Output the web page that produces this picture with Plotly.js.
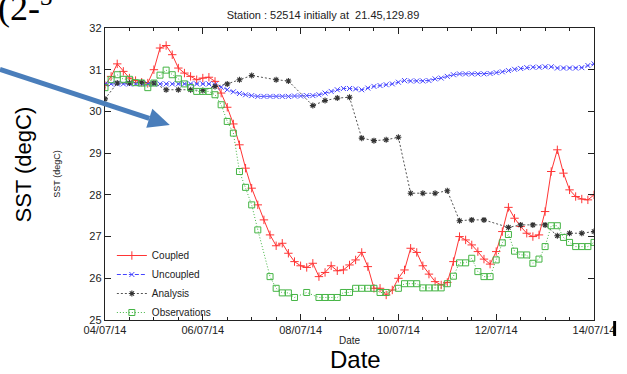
<!DOCTYPE html>
<html><head><meta charset="utf-8">
<script src="https://cdn.plot.ly/plotly-3.0.1.min.js"></script>
<style>html,body{margin:0;padding:0;background:#fff;}#chart{width:627px;height:374px;}</style>
</head><body><div id="chart"></div>
<script>
// ---- data (3-hourly from 04/07/2014 00:00, analysis 6-hourly) ----
const startDate = [2014, 6, 4];
const coupled = [30.62,30.84,31.14,30.96,30.80,30.74,30.70,30.68,31.00,31.52,31.58,31.36,31.04,30.92,30.84,30.76,30.80,30.82,30.72,30.44,
 30.10,29.70,29.20,28.64,28.16,27.76,27.40,27.04,26.78,26.84,26.60,26.40,26.30,26.26,26.36,26.04,26.14,26.30,26.18,26.20,
 26.32,26.44,26.62,26.28,25.76,25.76,25.60,25.72,26.00,26.20,26.72,26.62,26.30,26.10,25.92,25.84,25.90,26.40,27.00,26.92,
 26.80,26.64,26.46,26.34,26.64,27.12,27.70,27.44,27.24,27.08,27.00,27.04,27.60,28.56,29.08,28.52,28.12,27.96,27.90,27.88,28.00];
const uncoupled = [30.66,30.66,30.66,30.66,30.66,30.66,30.66,30.66,30.66,30.66,30.66,30.66,30.66,30.66,30.66,30.66,30.66,30.66,30.64,30.58,
 30.52,30.47,30.43,30.40,30.38,30.36,30.36,30.36,30.36,30.36,30.36,30.37,30.37,30.38,30.38,30.40,30.44,30.48,30.52,30.55,
 30.55,30.54,30.52,30.56,30.60,30.62,30.64,30.66,30.70,30.74,30.73,30.73,30.73,30.74,30.78,30.80,30.84,30.88,30.90,30.90,
 30.90,30.90,30.90,30.91,30.93,30.95,30.98,31.01,31.03,31.05,31.06,31.06,31.07,31.07,31.04,31.04,31.04,31.04,31.05,31.10,31.14];
const analysis = [30.30,30.68,30.68,30.70,30.68,30.52,30.52,30.52,30.50,30.60,30.66,30.76,30.86,null,30.76,30.73,null,30.14,30.26,30.32,
 30.34,29.36,29.30,29.32,29.38,28.04,28.04,28.04,28.10,27.38,27.40,27.40,null,27.22,27.28,27.28,27.28,27.02,27.08,27.08,27.12];
const observations = [30.57,30.76,30.88,30.77,30.77,30.69,30.68,30.57,30.68,30.87,30.99,30.88,30.78,30.66,30.57,30.48,30.48,30.48,30.40,30.16,
 29.76,29.48,28.56,28.18,27.76,27.16,null,26.04,25.76,25.65,25.65,25.54,null,25.66,null,25.54,25.54,25.54,25.54,25.66,
 25.66,25.76,25.76,25.76,25.76,25.66,25.66,null,25.76,25.87,25.87,25.87,25.77,25.77,25.77,25.77,25.87,26.05,26.37,26.37,
 26.48,26.16,26.04,26.04,26.44,26.85,27.05,26.65,26.56,26.56,26.36,26.46,26.76,27.26,27.26,26.98,26.86,26.76,26.76,26.76,26.86];
const tickDates = ['2014-07-04','2014-07-06','2014-07-08','2014-07-10','2014-07-12','2014-07-14'];
const tickLabels = ['04/07/14','06/07/14','08/07/14','10/07/14','12/07/14','14/07/14'];
const seriesNames = ['Coupled','Uncoupled','Analysis','Observations'];

function times(n, stepHours){
  const t0 = Date.UTC(startDate[0], startDate[1], startDate[2]);
  return Array.from({length:n}, (_, i) => new Date(t0 + i*stepHours*3600000).toISOString().slice(0,19).replace('T',' '));
}

// ---- geometry helpers (pixel -> paper) ----
const W=627, H=374, L=105, R=24, T=28, B=54;
const PW=W-L-R, PH=H-T-B;
const px = x => (x-L)/PW, py = y => (H-B-y)/PH;

const FONT = 'Liberation Sans, Arial, sans-serif';
const INK = '#222';

const traces = [
  {x: times(coupled.length,3), y: coupled, name: seriesNames[0], type:'scatter', mode:'lines+markers',
   line:{color:'#ff3535', width:1}, marker:{symbol:'cross-thin-open', size:6, color:'#ff3535', line:{color:'#ff3535', width:1}}},
  {x: times(uncoupled.length,3), y: uncoupled, name: seriesNames[1], type:'scatter', mode:'lines+markers',
   line:{color:'#4545ff', width:1, dash:'4px,2px'}, marker:{symbol:'x-thin-open', size:5, color:'#4545ff', line:{color:'#4545ff', width:1}}},
  {x: times(analysis.length,6), y: analysis, name: seriesNames[2], type:'scatter', mode:'lines+markers', connectgaps:true,
   line:{color:'#555', width:1, dash:'2px,2px'}, marker:{symbol:'asterisk-open', size:5, color:'#333', line:{color:'#333', width:1.1}}},
  {x: times(observations.length,3), y: observations, name: seriesNames[3], type:'scatter', mode:'lines+markers', connectgaps:true,
   line:{color:'#44b444', width:1, dash:'1px,2px'}, marker:{symbol:'square-open', size:6, color:'#44b444', line:{color:'#44b444', width:1}}}
];

const arrowCol = '#4a7ebb';
const layout = {
  width: W, height: H,
  margin: {l:L, r:R, t:T, b:B, pad:0},
  paper_bgcolor:'#fff', plot_bgcolor:'#fff',
  font: {family: FONT, color: INK, size: 11},
  title: {text: 'Station : 52514 initially at  21.45,129.89', font:{size:11, color:INK, family:FONT},
          x: 323/W, xref:'container', xanchor:'center', y: 1-15/H, yref:'container', yanchor:'middle'},
  xaxis: {type:'date', range:['2014-07-04','2014-07-14'], tickvals: tickDates, ticktext: tickLabels,
          ticks:'inside', ticklen:6, tickwidth:1, tickcolor:INK, showline:true, linecolor:INK, linewidth:1.2,
          mirror:'ticks', showgrid:false, zeroline:false, tickfont:{size:11, color:INK, family:FONT},
          minor:{dtick: 43200000, ticks:'inside', ticklen:3, tickcolor:INK, showgrid:false},
          title:{text:'Date', font:{size:10, color:INK, family:FONT}, standoff:1}, automargin:true},
  yaxis: {range:[25,32], dtick:1, ticks:'inside', ticklen:6, tickwidth:1, tickcolor:INK, showline:true, linecolor:INK,
          linewidth:1.2, mirror:'ticks', showgrid:false, zeroline:false, tickfont:{size:11, color:INK, family:FONT},
          title:{text:'SST (degC)', font:{size:9, color:INK, family:FONT}, standoff:27}, automargin:true},
  showlegend: true,
  legend: {x: px(112), y: py(327), xanchor:'left', yanchor:'bottom', bgcolor:'rgba(0,0,0,0)',
           font:{size:10, color:INK, family:FONT}, tracegroupgap:0, itemwidth:30},
  annotations: [
    {text:'(2-<sup>3</sup>', xref:'paper', yref:'paper', x: px(-6), y: py(30), xanchor:'left', yanchor:'bottom',
     showarrow:false, font:{family:'Liberation Serif, Times New Roman, serif', size:36, color:'#000'}},
    {text:'SST (degC)', xref:'paper', yref:'paper', x: px(21), y: py(165), xanchor:'center', yanchor:'middle',
     textangle:-90, showarrow:false, font:{family:FONT, size:22, color:'#000'}},
    {text:'Date', xref:'paper', yref:'paper', x: px(360), y: py(359.5), xanchor:'center', yanchor:'middle',
     showarrow:false, borderpad:0, font:{family:'Liberation Sans Narrow, Liberation Sans, Arial, sans-serif', size:24, color:'#000'}}
  ],
  shapes: [
    {type:'line', xref:'paper', yref:'paper', x0:px(-2), y0:py(69.4), x1:px(150.1), y1:py(118.3),
     line:{color:arrowCol, width:5}},
    {type:'path', xref:'paper', yref:'paper',
     path:`M ${px(171)} ${py(125)} L ${px(147.0)} ${py(127.8)} L ${px(153.2)} ${py(108.8)} Z`,
     fillcolor:arrowCol, line:{width:0}},
    {type:'rect', xref:'paper', yref:'paper', x0:px(622.5), x1:px(625.5), y0:py(321), y1:py(336),
     fillcolor:'#000', line:{width:0}}
  ]
};

Plotly.newPlot('chart', traces, layout, {displayModeBar:false, staticPlot:true});
</script></body></html>
